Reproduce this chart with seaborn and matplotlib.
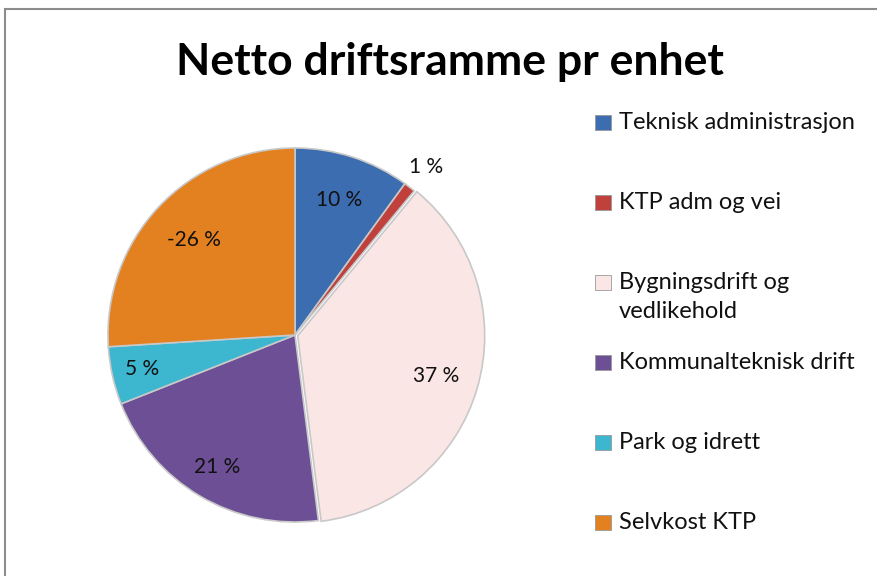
import matplotlib
matplotlib.use("Agg")
import matplotlib.pyplot as plt
from matplotlib.patches import Rectangle
import seaborn as sns
import numpy as np

# ---- data ----
categories = ["Teknisk administrasjon", "KTP adm og vei", "Bygningsdrift og\nvedlikehold",
              "Kommunalteknisk drift", "Park og idrett", "Selvkost KTP"]
shares = [10, 1, 37, 21, 5, -26]
pct_labels = ["10 %", "1 %", "37 %", "21 %", "5 %", "-26 %"]

# ---- style ----
colors = ["#3b6db0", "#c0403c", "#fbe6e6", "#6d4f95", "#3db6cf", "#e3801f"]
explode = [0, 0, 0.015, 0, 0, 0]
label_dist = [0.76, 1.14, 0.77, 0.82, 0.84, 0.74]

sns.set_theme(style="white")
plt.rcParams['font.family'] = ['Lato', 'DejaVu Sans']

W, H = 877, 576
fig = plt.figure(figsize=(W / 100, H / 100), dpi=100)
fig.patch.set_facecolor("white")

# pie axes: center (295, 335) px, radius 187 px
cx, cy, r = 295, 335, 187
lim = 1.08
half = r * lim
ax = fig.add_axes([(cx - half) / W, (H - cy - half) / H, 2 * half / W, 2 * half / H])
ax.set_xlim(-lim, lim)
ax.set_ylim(-lim, lim)
ax.set_aspect("equal")
ax.axis("off")

vals = np.abs(shares)
wedges, _ = ax.pie(vals, colors=colors, startangle=90, counterclock=False,
                   explode=explode, radius=1,
                   wedgeprops=dict(edgecolor="#c8c8c8", linewidth=1.2))
ax.set_xlim(-lim, lim)
ax.set_ylim(-lim, lim)

for w, lab, d, ex in zip(wedges, pct_labels, label_dist, explode):
    ang = np.deg2rad((w.theta1 + w.theta2) / 2)
    rr = d + ex
    ax.text(rr * np.cos(ang), rr * np.sin(ang), lab, ha="center", va="center",
            fontsize=15, color="#111111")

# title
fig.text(450 / W, 1 - 62 / H, "Netto driftsramme pr enhet", ha="center", va="center",
         fontsize=32, fontweight="bold", color="black")

# legend (manual, Excel-like spacing)
y0, step = 122, 80
for i, (lab, col) in enumerate(zip(categories, colors)):
    yc = y0 + i * step
    fig.patches.append(Rectangle((595 / W, 1 - (yc + 7.5) / H), 16 / W, 15 / H,
                                 transform=fig.transFigure, facecolor=col,
                                 edgecolor="#999999", linewidth=0.6))
    fig.text(619 / W, 1 - (yc - 10) / H, lab, ha="left", va="top",
             fontsize=17, color="#111111", linespacing=1.5)

# chart border
fig.patches.append(Rectangle((5 / W, -0.05), 1.1, 1 - 9 / H + 0.05,
                             transform=fig.transFigure, facecolor="none",
                             edgecolor="#8c8c8c", linewidth=1.5))

fig.savefig("out.png", dpi=100)
